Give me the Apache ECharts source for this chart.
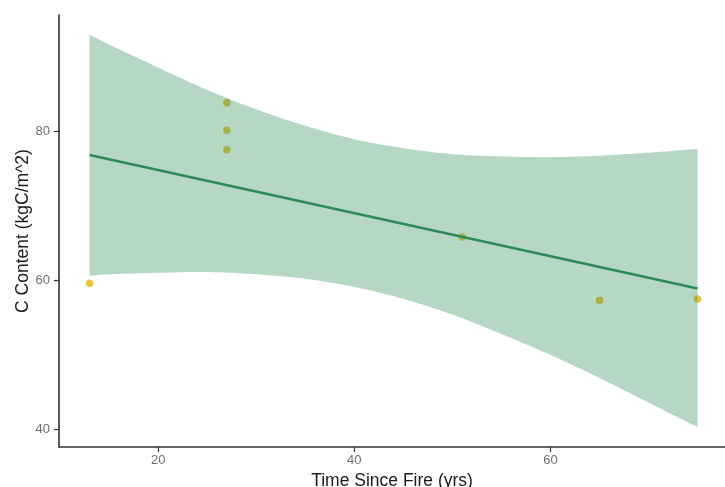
<!DOCTYPE html>
<html>
<head>
<meta charset="utf-8">
<script src="https://cdn.jsdelivr.net/npm/echarts@6/dist/echarts.min.js"></script>
<style>
html,body{margin:0;padding:0;background:#fff;}
#chart{width:725px;height:487px;}
</style>
</head>
<body>
<div id="chart"></div>
<script>
// Observed points
const pointX = [13, 27, 27, 27, 51, 65, 75];
const pointY = [59.6, 83.8, 80.1, 77.5, 65.8, 57.3, 57.5];

// Fitted line (ends)
const fitX = [13, 75];
const fitY = [76.8, 58.9];

// Confidence band
const bandX = [13, 15, 20, 25, 30, 35, 40, 45, 50, 55, 60, 65, 70, 75];
const bandUpper = [92.9, 91.6, 88.5, 85.5, 82.9, 80.7, 78.9, 77.7, 76.9, 76.6, 76.5, 76.7, 77.1, 77.6];
const bandLower = [60.6, 60.8, 61.0, 61.1, 60.8, 60.2, 59.1, 57.5, 55.4, 52.8, 50.0, 46.9, 43.6, 40.3];

const xTicks = [20, 40, 60];
const yTicks = [40, 60, 80];

const chart = echarts.init(document.getElementById('chart'), null, {renderer: 'canvas'});

const FONT = '"Liberation Sans", Arial, Helvetica, sans-serif';

// Smooth a pixel-space polyline with Catmull-Rom splines (rendering only)
function smoothPts(P) {
  const out = [];
  const n = P.length;
  for (let i = 0; i < n - 1; i++) {
    const p0 = P[Math.max(0, i - 1)], p1 = P[i], p2 = P[i + 1], p3 = P[Math.min(n - 1, i + 2)];
    const steps = 16;
    for (let s = 0; s < steps; s++) {
      const t = s / steps, t2 = t * t, t3 = t2 * t;
      const f = (a, b, c, d) => 0.5 * ((2 * b) + (-a + c) * t + (2 * a - 5 * b + 4 * c - d) * t2 + (-a + 3 * b - 3 * c + d) * t3);
      out.push([f(p0[0], p1[0], p2[0], p3[0]), f(p0[1], p1[1], p2[1], p3[1])]);
    }
  }
  out.push(P[n - 1]);
  return out;
}

function renderBand(params, api) {
  const up = bandX.map((x, i) => api.coord([x, bandUpper[i]]));
  const lo = bandX.map((x, i) => api.coord([x, bandLower[i]]));
  const pts = smoothPts(up).concat(smoothPts(lo).reverse());
  return {
    type: 'polygon',
    shape: {points: pts},
    style: {fill: 'rgba(46,139,87,0.35)', stroke: 'none'}
  };
}

const option = {
  backgroundColor: '#ffffff',
  animation: false,
  grid: {left: 59, top: 15, right: 0, bottom: 40, containLabel: false, outerBoundsMode: 'none'},
  xAxis: {
    type: 'value',
    min: 9.88,
    max: 77.8,
    name: 'Time Since Fire (yrs)',
    nameLocation: 'middle',
    nameGap: 25,
    nameMoveOverlap: false,
    nameTextStyle: {fontFamily: FONT, fontSize: 17.5, color: '#1a1a1a'},
    axisLine: {show: true, onZero: false, lineStyle: {color: '#333', width: 1.6}},
    axisTick: {show: true, length: 5, customValues: xTicks, lineStyle: {color: '#333', width: 1.2}},
    axisLabel: {customValues: xTicks, fontFamily: FONT, fontSize: 13, color: '#6e6e6e', margin: 7},
    splitLine: {show: false}
  },
  yAxis: {
    type: 'value',
    min: 37.65,
    max: 95.55,
    name: 'C Content (kgC/m^2)',
    nameLocation: 'middle',
    nameGap: 27,
    nameMoveOverlap: false,
    nameRotate: 90,
    nameTextStyle: {fontFamily: FONT, fontSize: 17.5, color: '#1a1a1a'},
    axisLine: {show: true, onZero: false, lineStyle: {color: '#333', width: 1.6}},
    axisTick: {show: true, length: 5, customValues: yTicks, lineStyle: {color: '#333', width: 1.2}},
    axisLabel: {customValues: yTicks, fontFamily: FONT, fontSize: 13, color: '#6e6e6e', margin: 9},
    splitLine: {show: false}
  },
  series: [
    {
      type: 'scatter',
      z: 1,
      data: pointX.map((x, i) => [x, pointY[i]]),
      symbolSize: 7.5,
      itemStyle: {color: '#E7B800'},
      silent: true
    },
    {
      type: 'custom',
      z: 2,
      renderItem: renderBand,
      data: [[bandX[0], bandLower[0]]],
      silent: true
    },
    {
      type: 'line',
      z: 3,
      data: fitX.map((x, i) => [x, fitY[i]]),
      symbol: 'none',
      lineStyle: {color: '#2E8B57', width: 2.6},
      silent: true
    }
  ]
};
chart.setOption(option);
</script>
</body>
</html>
